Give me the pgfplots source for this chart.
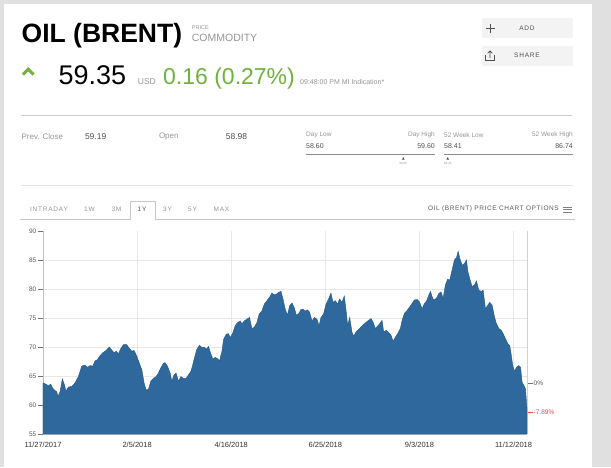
\documentclass[border=0pt]{standalone}
\usepackage{fontspec}
\setmainfont{Liberation Sans}
\newfontfamily\spaced[LetterSpace=12]{Liberation Sans}
\newfontfamily\spacedb[LetterSpace=9]{Liberation Sans}
\usepackage{pgfplots}
\usepackage{pgfplotstable}
\pgfplotsset{compat=1.18}
\definecolor{chartblue}{RGB}{46,104,157}
\definecolor{bggray}{RGB}{224,224,224}
\definecolor{upgreen}{RGB}{112,178,64}
\definecolor{txtgray}{RGB}{150,150,150}
\definecolor{valgray}{RGB}{80,80,80}
\definecolor{gridgray}{RGB}{232,232,232}
\definecolor{negred}{RGB}{222,80,80}
\definecolor{btngray}{RGB}{243,243,243}
\newcommand\fs[1]{\fontsize{#1}{#1}\selectfont}

\pgfplotstableread{
day price
0 63.8
2.2 63.6
4.0 63.3
5.7 63.6
7.2 62.9
8.9 62.5
10.2 62.3
11.2 61.5
12.7 62.3
14.4 64.5
15.9 63.5
17.1 62.4
18.9 63.1
21.4 63.2
23.8 63.8
26.3 64.9
28.8 66.7
31.3 66.9
33.0 66.5
35.0 66.8
37.0 66.7
38.7 67.6
40.4 67.8
42.4 68.5
44.4 69.0
46.9 69.4
49.4 70.0
51.1 69.5
52.9 69.0
54.4 69.3
56.1 68.8
57.8 69.7
59.8 70.4
62.3 70.4
64.0 69.8
66.0 69.3
67.8 69.4
69.8 68.4
71.7 67.2
73.5 66.1
75.2 63.8
76.7 62.6
78.4 62.7
80.2 64.1
82.1 64.6
84.1 64.9
85.8 65.5
87.6 66.4
89.6 67.2
90.8 67.3
92.6 66.7
94.6 65.5
95.8 64.1
97.5 65.2
99.0 65.5
100.8 64.1
102.5 64.9
104.5 64.6
106.5 64.6
108.2 65.2
110.0 65.8
111.0 66.6
112.4 67.9
114.4 69.6
116.4 70.3
118.2 69.9
119.9 70.0
121.4 69.6
123.1 70.1
124.9 68.8
126.4 67.9
128.1 68.2
129.8 68.0
131.3 67.6
133.1 69.3
134.3 71.3
136.3 72.2
138.0 72.3
139.2 71.6
141.3 72.5
143.0 73.7
144.7 74.2
146.7 74.5
148.0 74.0
149.7 74.5
151.7 74.8
153.6 75.1
155.4 73.2
157.1 73.4
159.1 74.2
160.8 75.7
162.8 76.2
164.6 77.4
166.6 78.0
168.5 78.6
170.3 79.3
172.0 79.0
173.5 79.1
175.2 79.4
177.0 79.6
178.5 78.3
180.2 76.5
181.9 75.5
183.4 77.1
185.2 77.6
186.9 76.8
188.4 75.5
190.1 75.7
191.9 76.5
193.4 76.5
195.1 76.2
196.8 76.4
198.3 76.0
200.1 74.5
201.8 75.1
203.8 74.8
205.3 73.7
206.8 75.1
208.7 75.7
210.5 77.4
212.4 78.3
214.2 79.3
215.7 77.7
217.4 78.0
219.1 77.4
220.6 78.3
222.4 77.7
224.1 78.8
225.6 76.0
226.6 73.7
228.1 75.1
229.9 72.5
231.1 71.9
233.1 72.7
234.8 73.0
236.6 73.5
238.5 73.9
240.5 74.3
242.2 74.6
244.0 74.9
245.5 74.3
247.2 73.2
248.9 73.6
250.4 74.0
252.2 74.6
253.4 72.6
255.4 72.9
257.1 72.5
258.9 72.0
260.4 71.0
262.1 71.7
263.8 72.3
265.8 73.2
267.1 74.6
268.8 75.8
270.8 76.3
272.7 76.9
274.5 77.5
276.2 78.1
278.2 78.2
280.0 77.8
282.0 76.6
283.7 77.5
285.2 77.9
286.9 78.9
288.2 79.6
289.4 78.7
290.6 78.1
292.6 78.4
294.3 79.2
296.1 79.5
297.6 78.4
299.3 80.7
301.0 81.7
302.5 81.5
304.3 83.3
306.0 85.0
307.5 85.4
308.8 86.5
310.0 85.3
311.8 84.1
313.5 84.4
315.0 85.0
316.0 83.0
317.4 81.8
319.2 80.4
320.9 80.7
322.4 81.4
324.1 79.8
325.9 79.6
327.4 79.8
329.1 76.6
330.8 77.2
332.3 77.7
334.1 77.2
335.8 75.2
337.3 74.0
339.0 73.2
340.8 72.9
342.3 72.3
344.0 71.4
345.7 70.6
347.2 70.2
348.2 68.8
349.4 66.8
350.7 65.8
352.2 66.5
353.9 66.8
355.2 66.5
356.4 63.9
357.6 63.4
358.9 62.8
360 59.3
}\brent

\begin{document}
\begin{tikzpicture}[x=1pt,y=-1pt]
\useasboundingbox (0,0) rectangle (611,467);
\fill[bggray] (0,0) rectangle (611,467);
\fill[white] (4,4) rectangle (592,467);

% header
\node[anchor=base west,inner sep=0] at (21.5,42.3) {\fs{26.5}\bfseries OIL (BRENT)};
\node[anchor=west,inner sep=0,text=txtgray] at (191.7,27.5) {\fs{5.5}PRICE};
\node[anchor=base west,inner sep=0,text=txtgray] at (191.7,41.7) {\fs{10.5}COMMODITY};
\draw[upgreen,line width=3pt] (23,74.5) -- (28.3,69.2) -- (33.6,74.5);
\node[anchor=base west,inner sep=0] at (58.3,84) {\fs{27}59.35};
\node[anchor=base west,inner sep=0,text=txtgray] at (137.7,84) {\fs{8.5}USD};
\node[anchor=base west,inner sep=0,text=upgreen] at (163,84) {\fs{23}0.16 (0.27\%)};
\node[anchor=base west,inner sep=0,text=txtgray] at (300,84) {\fs{7}09:48:00 PM MI Indication*};

% buttons
\fill[btngray] (481.7,17.7) rectangle (573.3,38.3);
\fill[btngray] (481.7,45.7) rectangle (573.3,65.7);
\draw[valgray,line width=0.8pt] (485.5,28.3) -- (494.5,28.3) (490,23.8) -- (490,32.8);
\node[text=valgray,inner sep=0] at (527,28.3) {\spaced\fs{6.5}ADD};
\draw[valgray,line width=0.7pt] (485.5,55) -- (485.5,60) -- (494.5,60) -- (494.5,55);
\draw[valgray,line width=0.7pt] (490,58) -- (490,50.8) (487.6,53.2) -- (490,50.8) -- (492.4,53.2);
\node[text=valgray,inner sep=0] at (527,55.7) {\spaced\fs{6.5}SHARE};

% stats
\draw[black!20,line width=0.8pt] (21.4,115) -- (572,115);
\node[anchor=west,inner sep=0,text=txtgray] at (21.4,136.7) {\fs{8}Prev. Close};
\node[anchor=west,inner sep=0,text=valgray] at (84.8,136.7) {\fs{8.5}59.19};
\node[anchor=west,inner sep=0,text=txtgray] at (158.8,136.7) {\fs{8}Open};
\node[anchor=west,inner sep=0,text=valgray] at (225.7,136.7) {\fs{8.5}58.98};
\node[anchor=west,inner sep=0,text=txtgray] at (306,135) {\fs{6.5}Day Low};
\node[anchor=west,inner sep=0,text=valgray] at (306,145.7) {\fs{7}58.60};
\node[anchor=east,inner sep=0,text=txtgray] at (435,135) {\fs{6.5}Day High};
\node[anchor=east,inner sep=0,text=valgray] at (435,145.7) {\fs{7}59.60};
\node[anchor=west,inner sep=0,text=txtgray] at (444,135) {\fs{6.5}52 Week Low};
\node[anchor=west,inner sep=0,text=valgray] at (444,145.7) {\fs{7}58.41};
\node[anchor=east,inner sep=0,text=txtgray] at (573,135) {\fs{6.5}52 Week High};
\node[anchor=east,inner sep=0,text=valgray] at (573,145.7) {\fs{7}86.74};
\draw[black!45,line width=1.6pt] (306,154.3) -- (435,154.3) (444,154.3) -- (573,154.3);
\fill[black!70] (401.9,159.6) -- (403.3,157.2) -- (404.7,159.6) -- cycle;
\fill[black!70] (446.3,159.6) -- (447.7,157.2) -- (449.1,159.6) -- cycle;
\node[inner sep=0,text=txtgray] at (403.3,163.5) {\fs{3}59.35};
\node[inner sep=0,text=txtgray] at (447.7,163.5) {\fs{3}59.35};
\draw[black!10,line width=0.6pt] (21.4,185.7) -- (573,185.7);

% tabs
\draw[black!22,line width=0.6pt] (20,219) -- (130,219) -- (130,201) -- (155,201) -- (155,219) -- (575,219);
\node[inner sep=0,text=txtgray] at (49,209.3) {\spaced\fs{6.5}INTRADAY};
\node[inner sep=0,text=txtgray] at (89.5,209.3) {\spaced\fs{6.5}1W};
\node[inner sep=0,text=txtgray] at (116.5,209.3) {\spaced\fs{6.5}3M};
\node[inner sep=0,text=valgray] at (142,209.3) {\spaced\fs{6.5}1Y};
\node[inner sep=0,text=txtgray] at (167.5,209.3) {\spaced\fs{6.5}3Y};
\node[inner sep=0,text=txtgray] at (192.5,209.3) {\spaced\fs{6.5}5Y};
\node[inner sep=0,text=txtgray] at (221.5,209.3) {\spaced\fs{6.5}MAX};
\node[anchor=east,inner sep=0,text=black!65] at (559,209.3) {\spacedb\fs{6.5}OIL (BRENT) PRICE CHART OPTIONS};
\draw[black!50,line width=0.6pt] (563,206.8) -- (572,206.8) (563,209.3) -- (572,209.3) (563,211.8) -- (572,211.8);

\begin{axis}[
  at={(43pt,-434pt)}, anchor=south west,
  scale only axis, width=484pt, height=203pt,
  xmin=0, xmax=360, ymin=55, ymax=90,
  axis x line*=bottom, axis y line*=left,
  axis line style={draw=black!25, line width=0.5pt},
  xtick={0,70,140,210,280,350},
  xticklabels={11/27/2017,2/5/2018,4/16/2018,6/25/2018,9/3/2018,11/12/2018},
  xmajorgrids, ymajorgrids,
  grid style={draw=gridgray, line width=0.5pt},
  ytick={55,60,...,85},
  extra y ticks={90}, extra y tick style={grid=none},
  extra x ticks={360}, extra x tick labels={},
  extra x tick style={grid=major, major grid style={draw=black!18, line width=0.6pt}},
  tick align=outside,
  xtick style={draw=none},
  ytick style={draw=black!55, line width=0.5pt},
  major tick length=5pt,
  /pgf/number format/assume math mode=true,
  yticklabel style={font=\fs{6.5}, text=black!65, inner sep=1.5pt},
  xticklabel style={font=\fs{7.5}, text=black!80, inner sep=1pt, yshift=-1.5pt},
  clip=true,
]
\addplot[fill=chartblue, draw=chartblue!85!black, line width=0.4pt] table[x=day,y=price]{\brent} \closedcycle;
\coordinate (zero) at (axis cs:360,63.8);
\coordinate (neg) at (axis cs:360,58.8);
\end{axis}
\draw[black!55,line width=0.5pt] ([xshift=0.5pt]zero) -- ([xshift=5.5pt]zero);
\node[anchor=west,inner sep=0,text=black!65] at ([xshift=6.5pt]zero) {\fs{6.5}0\%};
\draw[negred,line width=0.5pt] ([xshift=0.5pt]neg) -- ([xshift=5.5pt]neg);
\node[anchor=west,inner sep=0,text=negred] at ([xshift=6.5pt]neg) {\fs{6.5}-7.89\%};
\end{tikzpicture}
\end{document}
